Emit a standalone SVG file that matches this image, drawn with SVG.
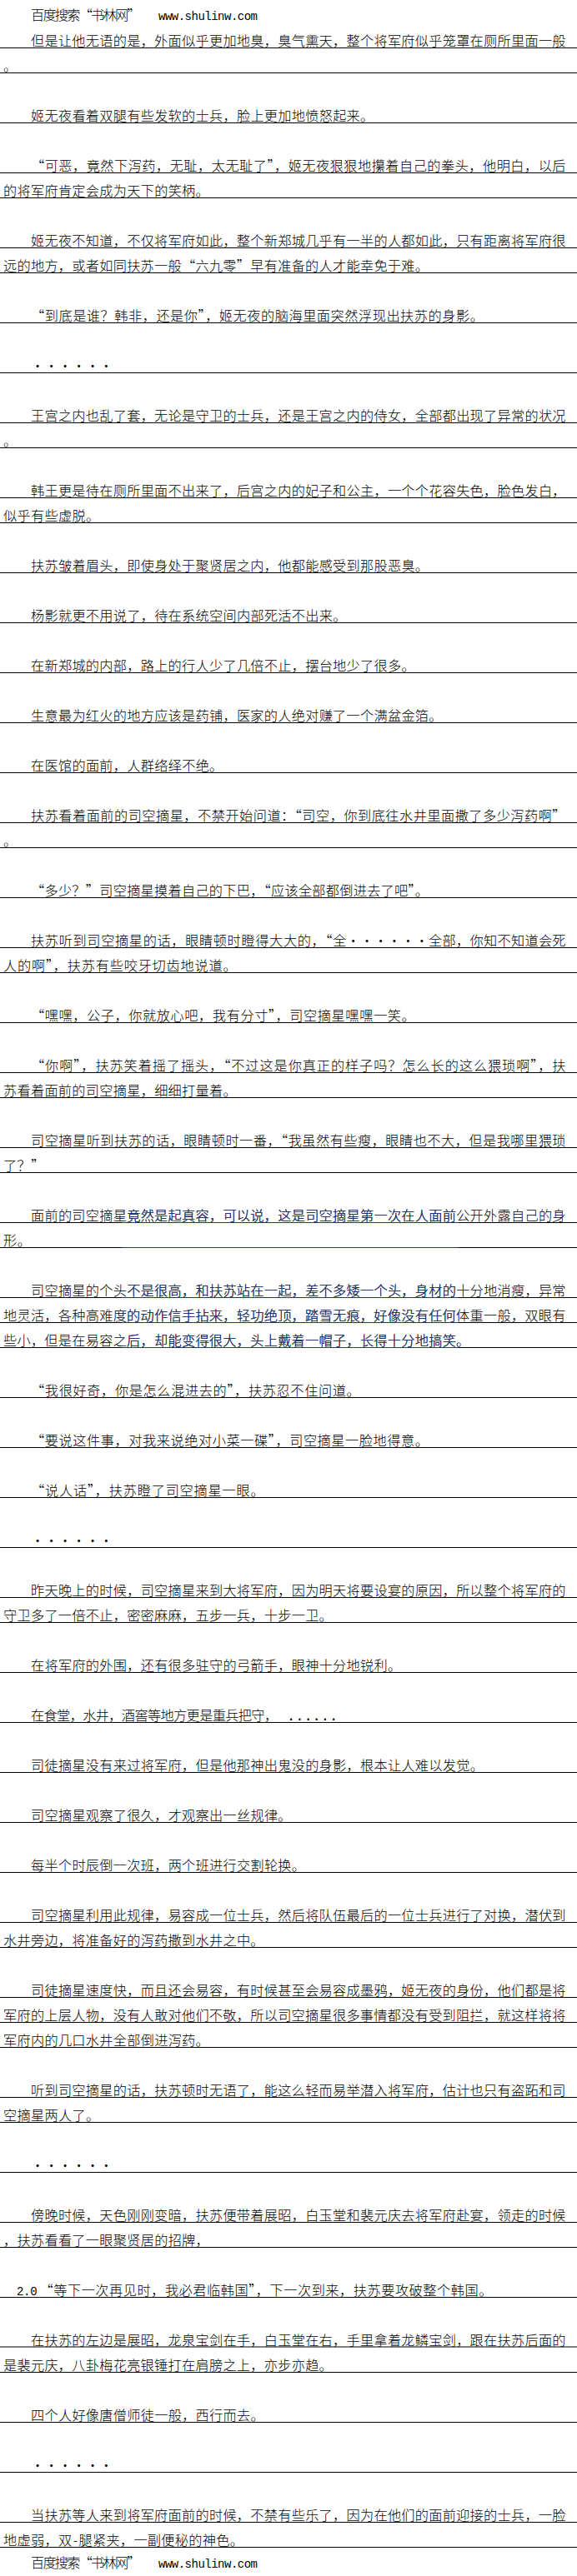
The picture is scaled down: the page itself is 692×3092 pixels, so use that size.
<svg xmlns="http://www.w3.org/2000/svg" width="692" height="3092" viewBox="0 0 692 3092">
<style>
.t{font-family:"Noto Sans CJK SC","Noto Sans CJK JP",sans-serif;font-size:16.2px;font-weight:300}
.m{font-family:"Liberation Mono",monospace}
.d{text-anchor:middle}
</style>
<defs>
<clipPath id="cb"><rect x="146" y="1446" width="404" height="176"/></clipPath>
<g id="bp">
<text class="t" x="37" y="1465.3" textLength="641.55">面前的司空摘星竟然是起真容，可以说，这是司空摘星第一次在人面前公开外露自己的身</text>
<rect x="0" y="1467" width="692" height="1"/>
<text class="t" x="4" y="1495.3" textLength="32.9">形。</text>
<rect x="0" y="1497" width="692" height="1"/>
<text class="t" x="37" y="1555.3" textLength="641.55">司空摘星的个头不是很高，和扶苏站在一起，差不多矮一个头，身材的十分地消瘦，异常</text>
<rect x="0" y="1557" width="692" height="1"/>
<text class="t" x="4" y="1585.3" textLength="674.45">地灵活，各种高难度的动作信手拈来，轻功绝顶，踏雪无痕，好像没有任何体重一般，双眼有</text>
<rect x="0" y="1587" width="692" height="1"/>
<text class="t" x="4" y="1615.3" textLength="559.3">些小，但是在易容之后，却能变得很大，头上戴着一帽子，长得十分地搞笑。</text>
<rect x="0" y="1617" width="692" height="1"/>
</g>
</defs>
<rect width="692" height="3092" fill="#fff"/>
<g id="page" fill="#000">
<text class="t" x="37" y="24" textLength="131.6">百度搜索“书林网”</text>
<text class="m" x="190" y="24" font-size="14" textLength="119">www.shulinw.com</text>

<text class="t" x="37" y="55.3" textLength="641.55">但是让他无语的是，外面似乎更加地臭，臭气熏天，整个将军府似乎笼罩在厕所里面一般</text>
<rect x="0" y="57" width="692" height="1"/>
<text class="t" x="4" y="85.3">。</text>
<rect x="0" y="87" width="692" height="1"/>
<text class="t" x="37" y="145.3" textLength="411.25">姬无夜看着双腿有些发软的士兵，脸上更加地愤怒起来。</text>
<rect x="0" y="147" width="692" height="1"/>
<text class="t" x="37" y="205.3" textLength="641.55">“可恶，竟然下泻药，无耻，太无耻了”，姬无夜狠狠地攥着自己的拳头，他明白，以后</text>
<rect x="0" y="207" width="692" height="1"/>
<text class="t" x="4" y="235.3" textLength="246.75">的将军府肯定会成为天下的笑柄。</text>
<rect x="0" y="237" width="692" height="1"/>
<text class="t" x="37" y="295.3" textLength="641.55">姬无夜不知道，不仅将军府如此，整个新郑城几乎有一半的人都如此，只有距离将军府很</text>
<rect x="0" y="297" width="692" height="1"/>
<text class="t" x="4" y="325.3" textLength="509.95">远的地方，或者如同扶苏一般“六九零”早有准备的人才能幸免于难。</text>
<rect x="0" y="327" width="692" height="1"/>
<text class="t" x="37" y="385.3" textLength="542.85">“到底是谁？韩非，还是你”，姬无夜的脑海里面突然浮现出扶苏的身影。</text>
<rect x="0" y="387" width="692" height="1"/>
<text class="t d" x="45.2 61.65 78.1 94.55 111 127.45" y="445.3">······</text>
<rect x="0" y="447" width="692" height="1"/>
<text class="t" x="37" y="505.3" textLength="641.55">王宫之内也乱了套，无论是守卫的士兵，还是王宫之内的侍女，全部都出现了异常的状况</text>
<rect x="0" y="507" width="692" height="1"/>
<text class="t" x="4" y="535.3">。</text>
<rect x="0" y="537" width="692" height="1"/>
<text class="t" x="37" y="595.3" textLength="641.55">韩王更是待在厕所里面不出来了，后宫之内的妃子和公主，一个个花容失色，脸色发白，</text>
<rect x="0" y="597" width="692" height="1"/>
<text class="t" x="4" y="625.3" textLength="115.15">似乎有些虚脱。</text>
<rect x="0" y="627" width="692" height="1"/>
<text class="t" x="37" y="685.3" textLength="477.05">扶苏皱着眉头，即使身处于聚贤居之内，他都能感受到那股恶臭。</text>
<rect x="0" y="687" width="692" height="1"/>
<text class="t" x="37" y="745.3" textLength="378.35">杨影就更不用说了，待在系统空间内部死活不出来。</text>
<rect x="0" y="747" width="692" height="1"/>
<text class="t" x="37" y="805.3" textLength="460.6">在新郑城的内部，路上的行人少了几倍不止，摆台地少了很多。</text>
<rect x="0" y="807" width="692" height="1"/>
<text class="t" x="37" y="865.3" textLength="493.5">生意最为红火的地方应该是药铺，医家的人绝对赚了一个满盆金箔。</text>
<rect x="0" y="867" width="692" height="1"/>
<text class="t" x="37" y="925.3" textLength="230.3">在医馆的面前，人群络绎不绝。</text>
<rect x="0" y="927" width="692" height="1"/>
<text class="t" x="37" y="985.3" textLength="641.55">扶苏看着面前的司空摘星，不禁开始问道：“司空，你到底往水井里面撒了多少泻药啊”</text>
<rect x="0" y="987" width="692" height="1"/>
<text class="t" x="4" y="1015.3">。</text>
<rect x="0" y="1017" width="692" height="1"/>
<text class="t" x="37" y="1075.3" textLength="477.05">“多少？”司空摘星摸着自己的下巴，“应该全部都倒进去了吧”。</text>
<rect x="0" y="1077" width="692" height="1"/>
<text class="t" x="37" y="1135.3" textLength="378.35">扶苏听到司空摘星的话，眼睛顿时瞪得大大的，“全</text>
<text class="t d" x="423.6 440.05 456.5 472.95 489.4 505.85" y="1135.3">······</text>
<text class="t" x="514.05" y="1135.3" textLength="164.5">全部，你知不知道会死</text>
<rect x="0" y="1137" width="692" height="1"/>
<text class="t" x="4" y="1165.3" textLength="279.65">人的啊”，扶苏有些咬牙切齿地说道。</text>
<rect x="0" y="1167" width="692" height="1"/>
<text class="t" x="37" y="1225.3" textLength="460.6">“嘿嘿，公子，你就放心吧，我有分寸”，司空摘星嘿嘿一笑。</text>
<rect x="0" y="1227" width="692" height="1"/>
<text class="t" x="37" y="1285.3" textLength="641.55">“你啊”，扶苏笑着摇了摇头，“不过这是你真正的样子吗？怎么长的这么猥琐啊”，扶</text>
<rect x="0" y="1287" width="692" height="1"/>
<text class="t" x="4" y="1315.3" textLength="279.65">苏看着面前的司空摘星，细细打量着。</text>
<rect x="0" y="1317" width="692" height="1"/>
<text class="t" x="37" y="1375.3" textLength="641.55">司空摘星听到扶苏的话，眼睛顿时一番，“我虽然有些瘦，眼睛也不大，但是我哪里猥琐</text>
<rect x="0" y="1377" width="692" height="1"/>
<text class="t" x="4" y="1405.3" textLength="49.35">了？”</text>
<rect x="0" y="1407" width="692" height="1"/>

<text class="t" x="37" y="1675.3" textLength="394.8">“我很好奇，你是怎么混进去的”，扶苏忍不住问道。</text>
<rect x="0" y="1677" width="692" height="1"/>
<text class="t" x="37" y="1735.3" textLength="477.05">“要说这件事，对我来说绝对小菜一碟”，司空摘星一脸地得意。</text>
<rect x="0" y="1737" width="692" height="1"/>
<text class="t" x="37" y="1795.3" textLength="279.65">“说人话”，扶苏瞪了司空摘星一眼。</text>
<rect x="0" y="1797" width="692" height="1"/>
<text class="t d" x="45.2 61.65 78.1 94.55 111 127.45" y="1855.3">······</text>
<rect x="0" y="1857" width="692" height="1"/>
<text class="t" x="37" y="1915.3" textLength="641.55">昨天晚上的时候，司空摘星来到大将军府，因为明天将要设宴的原因，所以整个将军府的</text>
<rect x="0" y="1917" width="692" height="1"/>
<text class="t" x="4" y="1945.3" textLength="394.8">守卫多了一倍不止，密密麻麻，五步一兵，十步一卫。</text>
<rect x="0" y="1947" width="692" height="1"/>
<text class="t" x="37" y="2005.3" textLength="444.15">在将军府的外围，还有很多驻守的弓箭手，眼神十分地锐利。</text>
<rect x="0" y="2007" width="692" height="1"/>
<text class="t" x="37" y="2065.3" textLength="296.1">在食堂，水井，酒窖等地方更是重兵把守，</text>
<text class="m" x="344" y="2065.3" font-size="17">......</text>
<rect x="0" y="2067" width="692" height="1"/>
<text class="t" x="37" y="2125.3" textLength="542.85">司徒摘星没有来过将军府，但是他那神出鬼没的身影，根本让人难以发觉。</text>
<rect x="0" y="2127" width="692" height="1"/>
<text class="t" x="37" y="2185.3" textLength="312.55">司空摘星观察了很久，才观察出一丝规律。</text>
<rect x="0" y="2187" width="692" height="1"/>
<text class="t" x="37" y="2245.3" textLength="329">每半个时辰倒一次班，两个班进行交割轮换。</text>
<rect x="0" y="2247" width="692" height="1"/>
<text class="t" x="37" y="2305.3" textLength="641.55">司空摘星利用此规律，易容成一位士兵，然后将队伍最后的一位士兵进行了对换，潜伏到</text>
<rect x="0" y="2307" width="692" height="1"/>
<text class="t" x="4" y="2335.3" textLength="312.55">水井旁边，将准备好的泻药撒到水井之中。</text>
<rect x="0" y="2337" width="692" height="1"/>
<text class="t" x="37" y="2395.3" textLength="641.55">司徒摘星速度快，而且还会易容，有时候甚至会易容成墨鸦，姬无夜的身份，他们都是将</text>
<rect x="0" y="2397" width="692" height="1"/>
<text class="t" x="4" y="2425.3" textLength="674.45">军府的上层人物，没有人敢对他们不敬，所以司空摘星很多事情都没有受到阻拦，就这样将将</text>
<rect x="0" y="2427" width="692" height="1"/>
<text class="t" x="4" y="2455.3" textLength="246.75">军府内的几口水井全部倒进泻药。</text>
<rect x="0" y="2457" width="692" height="1"/>
<text class="t" x="37" y="2515.3" textLength="641.55">听到司空摘星的话，扶苏顿时无语了，能这么轻而易举潜入将军府，估计也只有盗跖和司</text>
<rect x="0" y="2517" width="692" height="1"/>
<text class="t" x="4" y="2545.3" textLength="115.15">空摘星两人了。</text>
<rect x="0" y="2547" width="692" height="1"/>
<text class="t d" x="45.2 61.65 78.1 94.55 111 127.45" y="2605.3">······</text>
<rect x="0" y="2607" width="692" height="1"/>
<text class="t" x="37" y="2665.3" textLength="641.55">傍晚时候，天色刚刚变暗，扶苏便带着展昭，白玉堂和裴元庆去将军府赴宴，领走的时候</text>
<rect x="0" y="2667" width="692" height="1"/>
<text class="t" x="4" y="2695.3" textLength="246.75">，扶苏看看了一眼聚贤居的招牌，</text>
<rect x="0" y="2697" width="692" height="1"/>
<text class="m" x="20" y="2755.3" font-size="14" textLength="24.6">2.0</text>
<text class="t" x="47.5" y="2755.3" textLength="542.85">“等下一次再见时，我必君临韩国”，下一次到来，扶苏要攻破整个韩国。</text>
<rect x="0" y="2757" width="692" height="1"/>
<text class="t" x="37" y="2814.8" textLength="641.55">在扶苏的左边是展昭，龙泉宝剑在手，白玉堂在右，手里拿着龙鳞宝剑，跟在扶苏后面的</text>
<rect x="0" y="2816.5" width="692" height="1"/>
<text class="t" x="4" y="2845.3" textLength="394.8">是裴元庆，八卦梅花亮银锤打在肩膀之上，亦步亦趋。</text>
<rect x="0" y="2847" width="692" height="1"/>
<text class="t" x="37" y="2905.3" textLength="279.65">四个人好像唐僧师徒一般，西行而去。</text>
<rect x="0" y="2907" width="692" height="1"/>
<text class="t d" x="45.2 61.65 78.1 94.55 111 127.45" y="2965.3">······</text>
<rect x="0" y="2967" width="692" height="1"/>
<text class="t" x="37" y="3025.3" textLength="641.55">当扶苏等人来到将军府面前的时候，不禁有些乐了，因为在他们的面前迎接的士兵，一脸</text>
<rect x="0" y="3027" width="692" height="1"/>
<text class="t" x="4" y="3055.3" textLength="82.25">地虚弱，双</text>
<text class="t d" x="90.4" y="3055.3">-</text>
<text class="t" x="94.5" y="3055.3" textLength="197.4">腿紧夹，一副便秘的神色。</text>
<rect x="0" y="3057" width="692" height="1"/>

<text class="t" x="37" y="3082" textLength="131.6">百度搜索“书林网”</text>
<text class="m" x="190" y="3082" font-size="14" textLength="119">www.shulinw.com</text>
</g>
<use href="#bp" fill="#000"/>
<use href="#bp" fill="#1f3a7a" clip-path="url(#cb)"/>
</svg>
